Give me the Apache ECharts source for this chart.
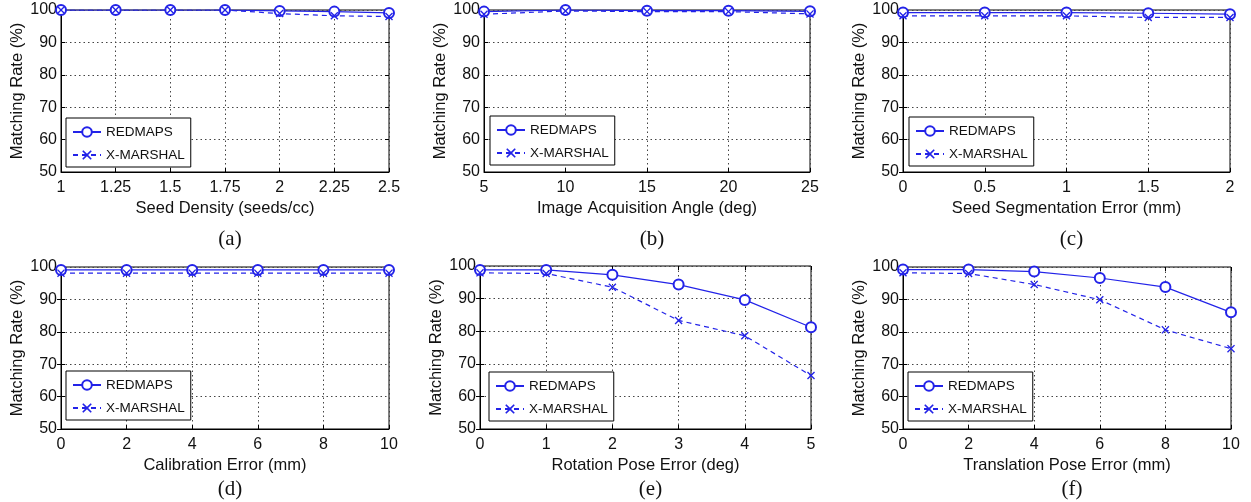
<!DOCTYPE html>
<html><head><meta charset="utf-8">
<script src="https://cdn.jsdelivr.net/npm/echarts@6/dist/echarts.min.js"></script>
<style>html,body{margin:0;padding:0;background:#fff}#c{width:1251px;height:502px}</style>
</head><body><div id="c"></div>
<script>
// ---- data ----
const xA = [1, 1.25, 1.5, 1.75, 2, 2.25, 2.5];
const redA = [100, 100, 100, 100, 99.7, 99.5, 99.1];
const xmA  = [100, 100, 100, 100, 98.9, 98.2, 98.0];

const xB = [5, 10, 15, 20, 25];
const redB = [99.5, 100, 99.8, 99.8, 99.6];
const xmB  = [98.7, 99.7, 99.5, 99.5, 98.8];

const xC = [0, 0.5, 1, 1.5, 2];
const redC = [99.2, 99.2, 99.2, 99.0, 98.7];
const xmC  = [98.2, 98.2, 98.2, 97.7, 97.7];

const xD = [0, 2, 4, 6, 8, 10];
const redD = [99.1, 99.1, 99.1, 99.1, 99.1, 99.1];
const xmD  = [98.1, 98.1, 98.1, 98.1, 98.1, 98.1];

const xE = [0, 1, 2, 3, 4, 5];
const redE = [98.8, 98.8, 97.3, 94.3, 89.6, 81.2];
const xmE  = [97.9, 97.7, 93.5, 83.3, 78.6, 66.4];

const xF = [0, 2, 4, 6, 8, 10];
const redF = [99.2, 99.2, 98.6, 96.6, 93.8, 86.0];
const xmF  = [98.2, 98.0, 94.6, 89.9, 80.6, 74.8];

const xNames = ['Seed Density (seeds/cc)', 'Image Acquisition Angle (deg)', 'Seed Segmentation Error (mm)',
                'Calibration Error (mm)', 'Rotation Pose Error (deg)', 'Translation Pose Error (mm)'];
const captions = ['(a)', '(b)', '(c)', '(d)', '(e)', '(f)'];
const yName = 'Matching Rate (%)';
const seriesNames = ['REDMAPS', 'X-MARSHAL'];

// ---- layout ----
const panels = [
  {x: xA, r: redA, m: xmA, min: 1, max: 2.5, step: 0.25, g: {left: 61, top: 10, width: 328, height: 162}, lg: {left: 66, top: 118}, cap: 224},
  {x: xB, r: redB, m: xmB, min: 5, max: 25, step: 5, g: {left: 484, top: 10, width: 326, height: 162}, lg: {left: 490, top: 116}, cap: 224},
  {x: xC, r: redC, m: xmC, min: 0, max: 2, step: 0.5, g: {left: 903, top: 10, width: 327, height: 162}, lg: {left: 909, top: 117}, cap: 224},
  {x: xD, r: redD, m: xmD, min: 0, max: 10, step: 2, g: {left: 61, top: 267, width: 328, height: 162}, lg: {left: 66, top: 371}, cap: 474},
  {x: xE, r: redE, m: xmE, min: 0, max: 5, step: 1, g: {left: 480, top: 266, width: 331, height: 163}, lg: {left: 489, top: 372}, cap: 474},
  {x: xF, r: redF, m: xmF, min: 0, max: 10, step: 2, g: {left: 903, top: 267, width: 328, height: 162}, lg: {left: 908, top: 372}, cap: 474}
];

const BLUE = '#2323e8';
const XPATH = 'path://M0,1.2L1.2,0L5,3.8L8.8,0L10,1.2L6.2,5L10,8.8L8.8,10L5,6.2L1.2,10L0,8.8L3.8,5Z';
const FONT = 'Liberation Sans, Arial, sans-serif';

const grid = [], xAxis = [], yAxis = [], series = [], legend = [], title = [];
panels.forEach((p, i) => {
  grid.push(Object.assign({show: true, borderColor: '#000', borderWidth: 1, backgroundColor: '#fff', containLabel: false}, p.g));
  const split = {show: true, lineStyle: {type: [1.5, 3], color: '#444', width: 1}};
  const tick = {show: true, inside: true, length: 4, lineStyle: {color: '#000'}};
  xAxis.push({
    type: 'value', gridIndex: i, min: p.min, max: p.max, interval: p.step,
    name: xNames[i], nameLocation: 'middle', nameGap: 28,
    nameTextStyle: {fontSize: 16.5, color: '#111', fontFamily: FONT},
    axisLine: {show: true, lineStyle: {color: '#000', width: 1}},
    axisTick: tick,
    axisLabel: {fontSize: 16, color: '#111', margin: 8, fontFamily: FONT},
    splitLine: split
  });
  yAxis.push({
    type: 'value', gridIndex: i, min: 50, max: 100, interval: 10,
    name: yName, nameLocation: 'middle', nameGap: 34,
    nameTextStyle: {fontSize: 16.5, color: '#111', fontFamily: FONT},
    axisLine: {show: true, lineStyle: {color: '#000', width: 1}},
    axisTick: tick,
    axisLabel: {fontSize: 16, color: '#111', margin: 4, fontFamily: FONT},
    splitLine: split
  });
  series.push({
    name: seriesNames[0], type: 'line', xAxisIndex: i, yAxisIndex: i,
    data: p.x.map((v, k) => [v, p.r[k]]),
    symbol: 'emptyCircle', symbolSize: 10, showAllSymbol: true,
    lineStyle: {color: BLUE, width: 1.2, type: 'solid'},
    itemStyle: {color: BLUE, borderColor: BLUE, borderWidth: 1.2},
    emphasis: {disabled: true}, animation: false, z: 3
  });
  series.push({
    name: seriesNames[1], type: 'line', xAxisIndex: i, yAxisIndex: i,
    data: p.x.map((v, k) => [v, p.m[k]]),
    symbol: XPATH, symbolSize: 8, showAllSymbol: true,
    lineStyle: {color: BLUE, width: 1.2, type: [5, 4]},
    itemStyle: {color: BLUE},
    emphasis: {disabled: true}, animation: false, z: 3
  });
  legend.push({
    data: seriesNames, orient: 'vertical', left: p.lg.left, top: p.lg.top,
    backgroundColor: '#fff', borderColor: '#000', borderWidth: 1, borderRadius: 0,
    padding: [7, 6, 5, 6], itemWidth: 28, itemHeight: 12, itemGap: 9,
    textStyle: {fontSize: 13.5, color: '#111', fontFamily: FONT},
    selectedMode: false, z: 10
  });
  title.push({
    text: captions[i], left: p.g.left + p.g.width / 2, textAlign: 'center',
    top: p.cap,
    textStyle: {fontSize: 21, fontWeight: 'normal', color: '#111', fontFamily: 'Liberation Serif, Times New Roman, serif'}
  });
});
// mirrored ticks on top and right edges (box style)
panels.forEach((p, i) => {
  xAxis.push({
    type: 'value', gridIndex: i, position: 'top', min: p.min, max: p.max, interval: p.step,
    axisLine: {show: false}, axisTick: {show: true, inside: true, length: 4, lineStyle: {color: '#000'}},
    axisLabel: {show: false}, splitLine: {show: false}
  });
  yAxis.push({
    type: 'value', gridIndex: i, position: 'right', min: 50, max: 100, interval: 10,
    axisLine: {show: false}, axisTick: {show: true, inside: true, length: 4, lineStyle: {color: '#000'}},
    axisLabel: {show: false}, splitLine: {show: false}
  });
});

const chart = echarts.init(document.getElementById('c'), null, {renderer: 'canvas'});
chart.setOption({animation: false, backgroundColor: '#fff', grid, xAxis, yAxis, series, legend, title});
</script>
</body></html>
